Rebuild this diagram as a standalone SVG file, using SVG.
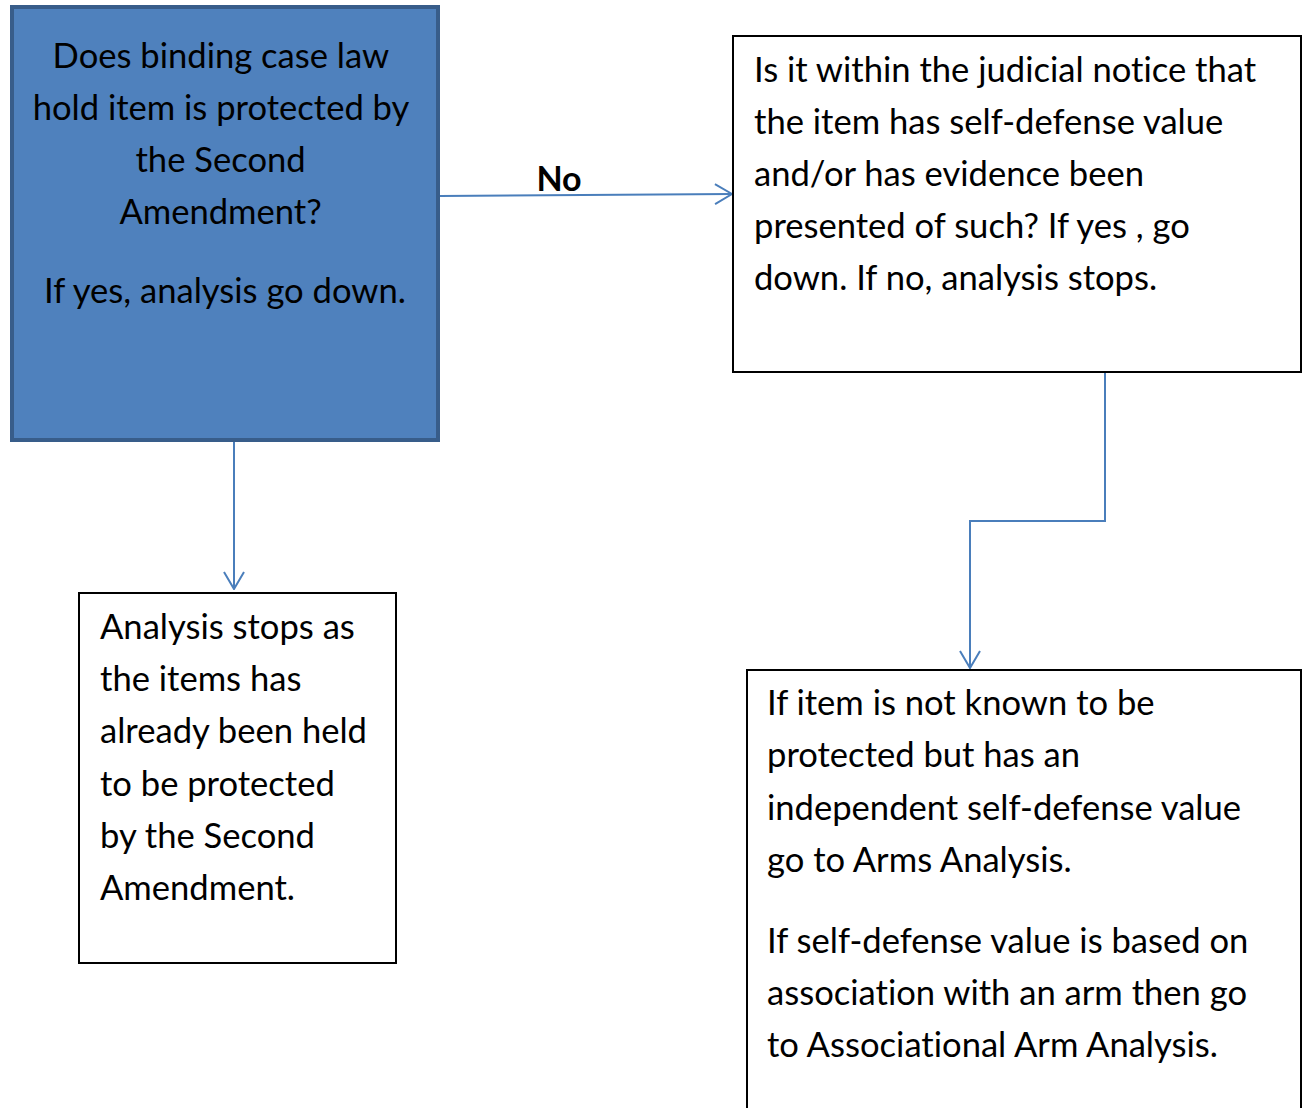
<svg xmlns="http://www.w3.org/2000/svg" width="1303" height="1108" viewBox="0 0 1303 1108">
<defs>
<style>
.t{font-family:Lato,"Open Sans","Liberation Sans",sans-serif;font-size:34.6px;fill:#000;font-variant-ligatures:none}
.box{fill:#fff;stroke:#000;stroke-width:2}
.conn{fill:none;stroke:#4A7EBB;stroke-width:2}
</style>
<marker id="arr" viewBox="0 0 19 22" refX="18" refY="11" markerWidth="19" markerHeight="22" markerUnits="userSpaceOnUse" orient="auto">
<path d="M1,1 L18,11 L1,21" fill="none" stroke="#4A7EBB" stroke-width="2"/>
</marker>
</defs>
<rect width="1303" height="1108" fill="#fff"/>
<g id="connectors">
<path class="conn" d="M440,196 L732,194" marker-end="url(#arr)"/>
<text x="559" y="191" text-anchor="middle" style="font-family:Lato,'Liberation Sans',sans-serif;font-size:34px;font-weight:bold">No</text>
<path class="conn" d="M234,442 L234,589" marker-end="url(#arr)"/>
<path class="conn" d="M1105,372 L1105,521 L970,521 L970,668" marker-end="url(#arr)"/>
</g>
<g id="node-case-law">
<rect x="12" y="7" width="426" height="433" fill="#4F81BD" stroke="#385D8A" stroke-width="4"/>
<text class="t" text-anchor="middle" x="225">
<tspan x="225" y="68">Does binding case law</tspan>
<tspan x="225" y="120">hold item is protected by</tspan>
<tspan x="225" y="172">the Second</tspan>
<tspan x="225" y="224">Amendment?</tspan>
<tspan x="225" y="303">If yes, analysis go down.</tspan>
</text>
</g>
<g id="node-judicial-notice">
<rect class="box" x="733" y="36" width="568" height="336"/>
<text class="t">
<tspan x="754" y="82">Is it within the judicial notice that</tspan>
<tspan x="754" y="134">the item has self-defense value</tspan>
<tspan x="754" y="186">and/or has evidence been</tspan>
<tspan x="754" y="238">presented of such? If yes , go</tspan>
<tspan x="754" y="290">down. If no, analysis stops.</tspan>
</text>
</g>
<g id="node-stops">
<rect class="box" x="79" y="593" width="317" height="370"/>
<text class="t">
<tspan x="100" y="639">Analysis stops as</tspan>
<tspan x="100" y="691">the items has</tspan>
<tspan x="100" y="743">already been held</tspan>
<tspan x="100" y="796">to be protected</tspan>
<tspan x="100" y="848">by the Second</tspan>
<tspan x="100" y="900">Amendment.</tspan>
</text>
</g>
<g id="node-arms">
<rect class="box" x="747" y="670" width="554" height="460"/>
<text class="t">
<tspan x="767" y="715">If item is not known to be</tspan>
<tspan x="767" y="767">protected but has an</tspan>
<tspan x="767" y="820">independent self-defense value</tspan>
<tspan x="767" y="872">go to Arms Analysis.</tspan>
<tspan x="767" y="953">If self-defense value is based on</tspan>
<tspan x="767" y="1005">association with an arm then go</tspan>
<tspan x="767" y="1057">to Associational Arm Analysis.</tspan>
</text>
</g>
</svg>
